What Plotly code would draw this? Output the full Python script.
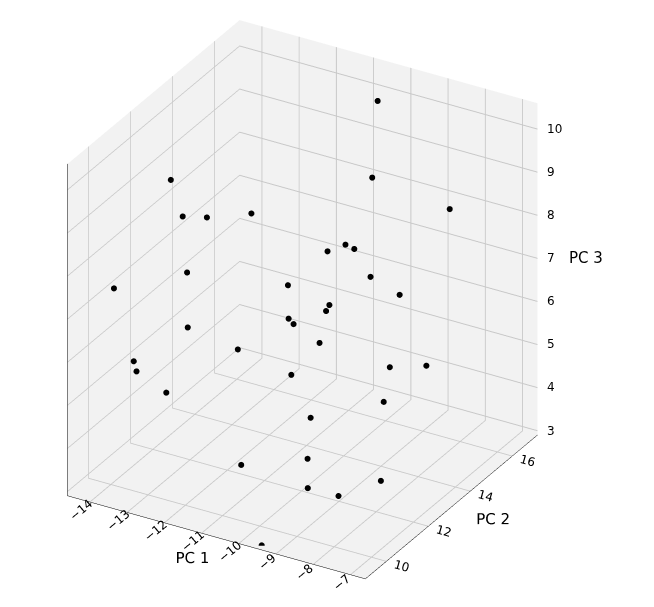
import plotly.graph_objects as go

# approximate PCA coordinates
pc1 = [-10.5, -9.8, -8.0, -13.8, -13.2, -13.0, -12.2, -12.8, -14.2, -12.5, -13.5,
       -12.0, -13.2, -12.4, -11.0, -10.8, -10.5, -11.5, -11.2, -10.2, -10.0,
       -9.8, -9.0, -8.5, -10.0, -9.2, -8.2, -7.8, -7.5, -9.0, -8.0, -8.6,
       -7.2, -10.5, -9.5, -11.8]
pc2 = [16.5, 15.0, 15.5, 12.5, 12.0, 12.8, 13.5, 11.5, 10.5, 11.0, 10.2,
       12.5, 9.8, 9.8, 15.0, 15.5, 14.2, 14.0, 13.5, 13.2, 14.5, 12.8,
       13.5, 14.0, 11.5, 11.0, 13.0, 12.0, 13.5, 10.5, 10.2, 9.8, 10.8,
       10.0, 9.2, 14.8]
pc3 = [10.0, 9.0, 8.5, 9.0, 8.5, 8.2, 8.2, 7.5, 7.2, 6.5, 5.8,
       5.5, 5.8, 5.5, 7.0, 7.0, 6.2, 6.5, 6.0, 5.8, 7.5, 6.8,
       7.5, 7.0, 5.8, 5.2, 5.8, 5.5, 5.8, 4.5, 4.0, 4.2, 4.3, 4.2,
       2.9, 5.2]
z_ticks = [3, 4, 5, 6, 7, 8, 9, 10]

x_rng = [-14.6, -6.6]
y_rng = [9, 17.2]
z_rng = [2.9, 10.6]

pane = dict(showbackground=True, backgroundcolor="rgb(242,242,242)",
            gridcolor="rgb(200,200,200)", zeroline=False, showspikes=False,
            linecolor="black", tickfont=dict(size=12, color="black"))
tfont = dict(size=15, color="black")

# z tick labels drawn on the right-hand edge like matplotlib does
ann = [dict(x=x_rng[1], y=y_rng[1], z=t, text=str(t), showarrow=False,
            xanchor="left", xshift=8, font=dict(size=12, color="black"))
       for t in z_ticks]
ann.append(dict(x=x_rng[1], y=y_rng[1], z=7, text="PC 3", showarrow=False,
                xanchor="left", xshift=30, font=tfont))

fig = go.Figure(go.Scatter3d(x=pc1, y=pc2, z=pc3, mode="markers",
                             marker=dict(size=3.5, color="black")))
fig.update_layout(
    width=654, height=607, paper_bgcolor="white",
    font=dict(family="DejaVu Sans"),
    margin=dict(l=0, r=0, t=0, b=0),
    showlegend=False,
    scene=dict(
        domain=dict(x=[0, 0.9], y=[0.04, 1]),
        xaxis=dict(pane, title=dict(text="PC 1", font=tfont), range=x_rng, dtick=1),
        yaxis=dict(pane, title=dict(text="PC 2", font=tfont), range=y_rng, dtick=2),
        zaxis=dict(pane, title=dict(text=""), range=z_rng, dtick=1, showticklabels=False),
        aspectmode="manual",
        aspectratio=dict(x=1.18, y=1.18, z=1.3),
        annotations=ann,
        camera=dict(eye=dict(x=0.78, y=-1.35, z=0.86),
                    projection=dict(type="orthographic")),
    ),
)
fig.write_html("out.html")
